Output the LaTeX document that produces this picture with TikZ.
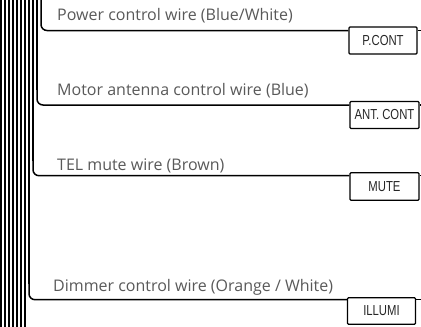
\documentclass[tikz,border=0pt]{standalone}
\usepackage{fontspec}
\setmainfont{Open Sans}
\newfontfamily\tagfont[FakeStretch=0.78]{Liberation Sans}
\usetikzlibrary{positioning}
\tikzset{
  wire/.style={line width=1.5pt, rounded corners=6pt},
  tagbox/.style={draw, line width=1.1pt, rounded corners=1pt, minimum width=68pt, minimum height=27pt, inner sep=0pt, font=\tagfont\fontsize{14.5}{15}\selectfont, text=black!85},
  wirelabel/.style={anchor=base west, inner sep=0pt, font=\fontsize{16}{18}\selectfont, text=black!65},
  bundle/.style={line width=1.2pt}
}
\begin{document}
\begin{tikzpicture}[x=1pt, y=-1pt]
    \useasboundingbox (0, 0) rectangle (421, 327) ;
    % bundle
    \foreach \x in {1, 5, ..., 25} \draw[bundle] (\x, 0) -- (\x, 327) ;
    \draw[bundle] (29, 0) -- (29, 284) ;
    \draw[bundle] (33, 0) -- (33, 161) ;
    \draw[bundle] (37, 0) -- (37, 90) ;
    % tags
    \node[tagbox] (pcont) at (383, 40.5) {P.CONT} ;
    \node[tagbox, minimum width=69pt] (antcont) at (384.5, 115) {ANT. CONT} ;
    \node[tagbox, minimum width=69pt, minimum height=27.5pt] (mute) at (384.5, 186.5) {MUTE} ;
    \node[tagbox, minimum height=26.5pt] (illumi) at (381.5, 311) {ILLUMI} ;
    % free ends
    \coordinate (pcontend) at (421, 30.5) ;
    \coordinate (antend) at (421, 105) ;
    \coordinate (muteend) at (421, 175.7) ;
    \coordinate (illumiend) at (421, 299.7) ;
    % wires
    \draw[wire] (41, 0) |- (pcont.west |- pcontend) ;
    \draw[wire] (37, 90) |- (antcont.west |- antend) ;
    \draw[wire] (33, 161) |- (mute.west |- muteend) ;
    \draw[wire] (29, 284) |- (illumi.west |- illumiend) ;
    \draw[wire] (pcont.east |- pcontend) -- (pcontend) ;
    \draw[wire] (antcont.east |- antend) -- (antend) ;
    \draw[wire] (mute.east |- muteend) -- (muteend) ;
    \draw[wire] (illumi.east |- illumiend) -- (illumiend) ;
    % labels
    \node[wirelabel] (pcontlabel) at (57, 20) {Power control wire (Blue/White)} ;
    \node[wirelabel] (antlabel) at (57, 95) {Motor antenna control wire (Blue)} ;
    \node[wirelabel] (mutelabel) at (57, 170.7) {TEL mute wire (Brown)} ;
    \node[wirelabel] (illumilabel) at (53, 291) {Dimmer control wire (Orange / White)} ;
\end{tikzpicture}
\end{document}
